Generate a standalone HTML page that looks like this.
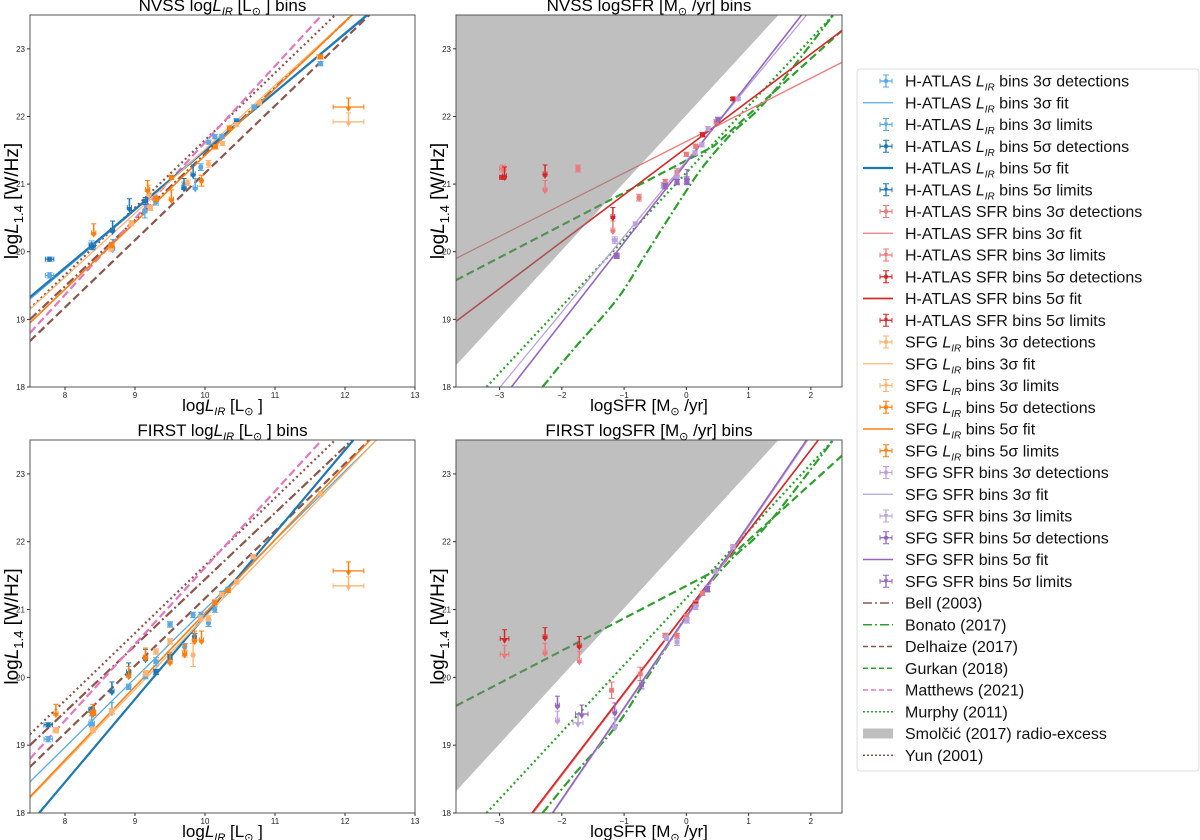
<!DOCTYPE html>
<html><head><meta charset="utf-8"><style>
html,body{margin:0;padding:0;background:#fff;}
svg{display:block;font-family:"Liberation Sans","DejaVu Sans",sans-serif;}
</style></head><body>
<svg id="fig" width="1200" height="840" viewBox="0 0 1200 840" xmlns="http://www.w3.org/2000/svg"></svg>
<script>
// ---------- data ----------
const lirTicks=[8,9,10,11,12,13];
const sfrTicks=[-3,-2,-1,0,1,2];
const yTicks=[18,19,20,21,22,23];

// theory lines in LIR panels [x0,y0,x1,y1]
const bellLir=[7.5,19.0,12.1,23.5];
const delhaizeLir=[7.5,18.68,12.35,23.5];
const matthewsLir=[7.5,18.8,11.67,23.5];
const yunLir=[7.5,19.16,11.86,23.5];
// fits NVSS LIR
const nvssH3fit=[7.5,19.30,12.3,23.5];
const nvssH5fit=[7.5,19.33,12.32,23.5];
const nvssS3fit=[7.5,19.15,12.1,23.5];
const nvssS5fit=[7.5,18.95,12.1,23.5];
// fits FIRST LIR
const firstH3fit=[7.5,18.46,12.45,23.5];
const firstH5fit=[7.63,18.0,12.12,23.5];
const firstS3fit=[7.5,18.22,12.45,23.5];
const firstS5fit=[7.5,18.24,12.36,23.5];

// SFR panel lines
const smolcic=[-3.7,18.32,1.48,23.5];
const murphy=[-3.21,18.0,2.36,23.5];
const gurkanX=[-3.7,0.44,2.5];
const gurkanY=[19.58,21.56,23.27];
const bonatoX=[-2.31,-1.82,-1.12,-0.64,-0.1,0.27,0.73,1.29,2.36];
const bonatoY=[18.0,18.55,19.29,19.98,20.76,21.26,21.75,22.24,23.5];
const nvssR3fit=[-3.7,19.9,2.5,22.8];
const nvssR5fit=[-3.7,18.97,2.5,23.27];
const nvssP3fit=[-2.99,18.0,1.93,23.5];
const nvssP5fit=[-2.81,18.0,1.85,23.5];
const firstR3fit=[-2.46,18.0,2.12,23.5];
const firstR5fit=[-2.48,18.0,2.12,23.5];
const firstP3fit=[-2.14,18.0,1.95,23.5];
const firstP5fit=[-2.15,18.0,1.93,23.5];

// points [x,y,yerr,xerr]
const nvssH3det=[[7.78,19.65,0.04,0.06],[8.38,20.1,0.06,0.04],[9.14,20.6,0.1,0.03],[9.3,20.74,0.05,0.03],[9.7,20.98,0.05,0.02],[9.94,21.25,0.05,0.02],[10.05,21.62,0.03,0.02],[10.14,21.7,0.03,0.02],[10.24,21.7,0.03,0.02],[10.45,21.94,0.03,0.02],[10.7,22.14,0.03,0.02],[11.65,22.78,0.03,0.03]];
const nvssH3lim=[[8.68,20.05],[9.86,20.95]];
const nvssH5det=[[7.78,19.89,0.03,0.06],[8.39,20.08,0.05,0.04],[9.15,20.75,0.05,0.03],[10.45,21.92,0.03,0.02]];
const nvssH5lim=[[8.68,20.32],[8.92,20.65],[9.7,20.95],[9.83,21.15]];
const nvssS3det=[[8.66,20.05,0.05,0.03],[8.95,20.42,0.04,0.03],[9.22,20.65,0.04,0.03],[9.75,21.02,0.04,0.02],[10.05,21.3,0.05,0.02],[10.25,21.6,0.03,0.02],[10.45,21.88,0.03,0.02],[10.78,22.2,0.03,0.02],[11.63,22.88,0.03,0.03]];
const nvssS3lim=[[9.2,20.85],[12.05,21.92,0,0.22]];
const nvssS5det=[[8.67,20.1,0.04,0.03],[9.3,20.78,0.04,0.03],[9.52,21.1,0.03,0.02],[9.95,21.05,0.08,0.02],[10.15,21.55,0.03,0.02],[10.35,21.83,0.03,0.02],[11.65,22.88,0.03,0.03]];
const nvssS5lim=[[8.41,20.28],[9.18,20.92],[9.52,20.78],[12.05,22.14,0,0.22]];

const firstH3det=[[7.76,19.09,0.04,0.06],[8.38,19.32,0.05,0.04],[8.91,19.86,0.04,0.03],[9.15,20.01,0.03,0.03],[9.3,20.23,0.06,0.03],[9.5,20.78,0.04,0.03],[9.71,20.45,0.05,0.02],[9.83,20.92,0.04,0.02],[9.94,20.92,0.04,0.02],[10.05,20.8,0.05,0.02],[10.14,21.0,0.04,0.02],[10.24,21.24,0.03,0.02],[10.33,21.3,0.03,0.02],[10.45,21.41,0.03,0.02],[10.69,21.78,0.03,0.02],[11.65,22.71,0.03,0.03]];
const firstH3lim=[[8.38,19.3],[8.67,19.5]];
const firstH5det=[[7.76,19.3,0.03,0.06],[8.38,19.52,0.04,0.04],[9.3,20.08,0.04,0.03],[9.5,20.3,0.04,0.03],[9.85,20.6,0.05,0.02]];
const firstH5lim=[[8.67,19.8],[8.91,20.08],[9.15,20.28]];
const firstS3det=[[7.87,19.22,0.04,0.04],[8.4,19.23,0.04,0.04],[8.67,19.5,0.04,0.03],[9.15,20.06,0.04,0.03],[9.3,20.38,0.04,0.03],[9.5,20.53,0.04,0.03],[9.71,20.35,0.05,0.02],[9.83,20.33,0.17,0.02],[9.94,20.87,0.04,0.02],[10.05,20.87,0.04,0.02],[10.14,21.12,0.03,0.02],[10.24,21.22,0.03,0.02],[10.45,21.41,0.03,0.02],[10.69,21.78,0.03,0.02],[11.65,22.71,0.03,0.03]];
const firstS3lim=[[12.05,21.35,0,0.22]];
const firstS5det=[[8.4,19.48,0.04,0.04],[10.14,21.1,0.03,0.02],[10.33,21.28,0.03,0.02]];
const firstS5lim=[[7.87,19.47],[8.4,19.47],[8.91,20.03],[9.15,20.3],[9.5,20.23],[9.71,20.35],[9.85,20.55],[9.95,20.55],[12.05,21.57,0,0.22]];

const nvssR3det=[[-2.95,21.23,0.05,0.05],[-1.74,21.23,0.05,0.03],[-0.76,20.8,0.05,0.03],[-0.34,21.03,0.04,0.03],[-0.15,21.18,0.05,0.03],[0,21.44,0.03,0.03],[0.15,21.56,0.03,0.03],[0.26,21.73,0.03,0.03],[0.48,21.92,0.03,0.03],[0.75,22.26,0.02,0.03]];
const nvssR3lim=[[-2.27,20.92],[-1.18,20.32]];
const nvssR5det=[[-2.95,21.1,0.03,0.05],[0.26,21.73,0.03,0.03],[0.75,22.26,0.02,0.03]];
const nvssR5lim=[[-2.92,21.12],[-2.27,21.15],[-1.18,20.52]];
const nvssP3det=[[-1.15,20.17,0.05,0.04],[-0.82,20.41,0.03,0.03],[-0.37,20.98,0.04,0.03],[-0.15,21.06,0.05,0.03],[0,21.06,0.05,0.03],[0.14,21.46,0.03,0.03],[0.25,21.58,0.03,0.03],[0.35,21.82,0.03,0.03],[0.51,21.96,0.03,0.03],[0.83,22.26,0.02,0.03]];
const nvssP3lim=[[-0.15,21.1]];
const nvssP5det=[[-1.12,19.94,0.04,0.04],[-0.34,20.97,0.04,0.03],[-0.15,21.03,0.04,0.03],[0.01,21.03,0.04,0.03],[0.51,21.95,0.03,0.03]];
const nvssP5lim=[[0.01,21.08]];

const firstR3det=[[-1.2,19.81,0.12,0.03],[-0.74,20.05,0.1,0.03],[-0.34,20.62,0.03,0.03],[-0.15,20.61,0.04,0.03],[0,20.9,0.03,0.03],[0.15,21.1,0.03,0.03],[0.26,21.24,0.03,0.03],[0.47,21.56,0.03,0.03],[0.75,21.93,0.02,0.03]];
const firstR3lim=[[-2.92,20.34,0,0.07],[-2.27,20.37],[-1.72,20.25]];
const firstR5det=[[0.15,21.08,0.03,0.03]];
const firstR5lim=[[-2.92,20.57,0,0.07],[-2.27,20.6],[-1.72,20.47]];
const firstP3det=[[-0.32,20.58,0.04,0.03],[-0.15,20.52,0.05,0.03],[0.01,20.84,0.04,0.03],[0.15,21.04,0.04,0.03],[0.34,21.31,0.04,0.03],[0.47,21.56,0.03,0.03],[0.75,21.92,0.03,0.03]];
const firstP3lim=[[-2.07,19.37],[-1.74,19.33,0,0.08],[-1.15,19.27]];
const firstP5det=[[-0.72,19.89,0.06,0.03],[0.34,21.3,0.04,0.03]];
const firstP5lim=[[-2.07,19.59],[-1.68,19.46,0,0.1],[-1.15,19.49]];

// ---------- drawing ----------
const NS='http://www.w3.org/2000/svg';
const svg=document.getElementById('fig');
function mk(tag,attrs,parent){const e=document.createElementNS(NS,tag);for(const k in attrs)e.setAttribute(k,attrs[k]);(parent||svg).appendChild(e);return e;}

const C={h3:'#5aa9e2',h5:'#1f77b4',r3:'#ec7a7a',r5:'#d62728',s3:'#ffb473',s5:'#ff7f0e',p3:'#bba3db',p5:'#9467bd',brown:'#8c564b',green:'#2ca02c',pink:'#e377c2'};

function makePanel(name,x0,y0,x1,y1,xmin,xmax,ymin,ymax){
  const g=mk('g',{});
  
  
  const cid='clip-'+name;
  const cp=mk('clipPath',{id:cid},g);mk('rect',{x:x0,y:y0,width:x1-x0,height:y1-y0},cp);
  const inner=mk('g',{'clip-path':'url(#'+cid+')'},g);
  return {g,inner,x0,y0,x1,y1,
    sx:v=>x0+(v-xmin)/(xmax-xmin)*(x1-x0),
    sy:v=>y1-(v-ymin)/(ymax-ymin)*(y1-y0)};
}
function line(P,seg,color,w,dash,name){
  const l=mk('line',{x1:P.sx(seg[0]),y1:P.sy(seg[1]),x2:P.sx(seg[2]),y2:P.sy(seg[3]),stroke:color,'stroke-width':w,'stroke-dasharray':dash||'none'},P.inner);
  
  
}
function poly(P,xs,ys,color,w,dash,name,smooth){
  const p=xs.map((x,i)=>[P.sx(x),P.sy(ys[i])]);
  let d='M'+p[0][0]+','+p[0][1];
  if(smooth){
    for(let i=0;i<p.length-1;i++){
      const p0=p[Math.max(0,i-1)],p1=p[i],p2=p[i+1],p3=p[Math.min(p.length-1,i+2)];
      const c1=[p1[0]+(p2[0]-p0[0])/6,p1[1]+(p2[1]-p0[1])/6];
      const c2=[p2[0]-(p3[0]-p1[0])/6,p2[1]-(p3[1]-p1[1])/6];
      d+=` C${c1[0]},${c1[1]} ${c2[0]},${c2[1]} ${p2[0]},${p2[1]}`;
    }
  }else{for(let i=1;i<p.length;i++)d+=' L'+p[i][0]+','+p[i][1];}
  const l=mk('path',{d:d,fill:'none',stroke:color,'stroke-width':w,'stroke-dasharray':dash||'none'},P.inner);
  
  
}
function shade(P,seg,name){
  const xa=seg[0],ya=seg[1],xb=seg[2],yb=seg[3];
  const pts=[[P.sx(xa),P.sy(ya)],[P.sx(xb),P.sy(yb)],[P.sx(xa),P.sy(yb)]].map(p=>p.join(',')).join(' ');
  const p=mk('polygon',{points:pts,fill:'#7f7f7f','fill-opacity':0.5},P.inner);
  
  
}
function pts(P,arr,color,isLim,name){
  const g=mk('g',{},P.inner);
  
  
  arr.forEach(d=>{
    const cx=P.sx(d[0]),cy=P.sy(d[1]);
    const xe=d[3]!==undefined?d[3]:0.03;
    const ex=Math.abs(P.sx(d[0]+xe)-cx);
    mk('line',{x1:cx-ex,y1:cy,x2:cx+ex,y2:cy,stroke:color,'stroke-width':1.3},g);
    mk('line',{x1:cx-ex,y1:cy-2.5,x2:cx-ex,y2:cy+2.5,stroke:color,'stroke-width':1},g);
    mk('line',{x1:cx+ex,y1:cy-2.5,x2:cx+ex,y2:cy+2.5,stroke:color,'stroke-width':1},g);
    if(isLim){
      mk('line',{x1:cx,y1:cy-9,x2:cx,y2:cy+3,stroke:color,'stroke-width':1.5},g);
      mk('polygon',{points:`${cx-3},${cy} ${cx+3},${cy} ${cx},${cy+5}`,fill:color},g);
      mk('line',{x1:cx-2.5,y1:cy-9,x2:cx+2.5,y2:cy-9,stroke:color,'stroke-width':1},g);
    }else{
      const ey=Math.abs(P.sy(d[1]+(d[2]||0.03))-cy);
      mk('line',{x1:cx,y1:cy-ey,x2:cx,y2:cy+ey,stroke:color,'stroke-width':1.3},g);
      mk('line',{x1:cx-3,y1:cy-ey,x2:cx+3,y2:cy-ey,stroke:color,'stroke-width':1},g);
      mk('line',{x1:cx-3,y1:cy+ey,x2:cx+3,y2:cy+ey,stroke:color,'stroke-width':1},g);
      mk('circle',{cx:cx,cy:cy,r:2.6,fill:color},g);
    }
  });
}
function axes(P,xt,title,xlab){
  const {x0,y0,x1,y1}=P;
  const f=mk('rect',{x:x0,y:y0,width:x1-x0,height:y1-y0,fill:'none',stroke:'#555','stroke-width':1},P.g);
  
  xt.forEach(v=>{const x=P.sx(v);mk('line',{x1:x,y1:y1,x2:x,y2:y1+3,stroke:'#333'},P.g);
    const t=mk('text',{x:x,y:y1+11,'font-size':8,'text-anchor':'middle',fill:'#222'},P.g);t.textContent=(v<0?'\u2212'+(-v):v);
    });
  yTicks.forEach(v=>{const y=P.sy(v);mk('line',{x1:x0-3,y1:y,x2:x0,y2:y,stroke:'#333'},P.g);
    const t=mk('text',{x:x0-5,y:y+3,'font-size':8,'text-anchor':'end',fill:'#222'},P.g);t.textContent=v;
    });
  const tt=mk('text',{x:(x0+x1)/2,y:y0-4,'font-size':17,'text-anchor':'middle'},P.g);tt.innerHTML=title;
  
  const xl=mk('text',{x:(x0+x1)/2,y:y1+24,'font-size':17,'text-anchor':'middle'},P.g);xl.innerHTML=xlab;
  
  const cy=(y0+y1)/2;
  const yl=mk('text',{x:x0-12,y:cy,'font-size':19,'text-anchor':'middle',transform:`rotate(-90 ${x0-12} ${cy})`},P.g);
  yl.innerHTML='log<tspan font-style="italic">L</tspan><tspan font-size="13" dy="5">1.4</tspan><tspan dy="-5"> [W/Hz]</tspan>';
  
}
const LIRLAB='log<tspan font-style="italic">L</tspan><tspan font-size="11" dy="4" font-style="italic">IR</tspan><tspan dy="-4"> [L</tspan><tspan font-size="11" dy="4">\u2299</tspan><tspan dy="-4"> ]</tspan>';
const SFRLAB='logSFR [M<tspan font-size="11" dy="4">\u2299</tspan><tspan dy="-4"> /yr]</tspan>';

function lirPanel(P,h3f,h5f,s3f,s5f,D){
  line(P,delhaizeLir,C.brown,2.2,'8,4','delhaize-line');
  line(P,bellLir,C.brown,2.2,'9,3,2,3','bell-line');
  line(P,yunLir,C.brown,2.2,'2,3','yun-line');
  line(P,matthewsLir,C.pink,2.2,'8,4','matthews-line');
  line(P,h3f,C.h3,1.3,null,'hatlas-lir-3sigma-fit');
  line(P,h5f,C.h5,2.2,null,'hatlas-lir-5sigma-fit');
  line(P,s3f,C.s3,1.3,null,'sfg-lir-3sigma-fit');
  line(P,s5f,C.s5,1.6,null,'sfg-lir-5sigma-fit');
  pts(P,D[0],C.h3,false,'hatlas-lir-3sigma-detections');
  pts(P,D[1],C.h3,true,'hatlas-lir-3sigma-limits');
  pts(P,D[2],C.h5,false,'hatlas-lir-5sigma-detections');
  pts(P,D[3],C.h5,true,'hatlas-lir-5sigma-limits');
  pts(P,D[4],C.s3,false,'sfg-lir-3sigma-detections');
  pts(P,D[5],C.s3,true,'sfg-lir-3sigma-limits');
  pts(P,D[6],C.s5,false,'sfg-lir-5sigma-detections');
  pts(P,D[7],C.s5,true,'sfg-lir-5sigma-limits');
}
function sfrPanel(P,r3f,r5f,p3f,p5f,D){
  line(P,murphy,C.green,2.2,'2,3','murphy-line');
  poly(P,bonatoX,bonatoY,C.green,2.2,'9,3,2,3','bonato-line',true);
  poly(P,gurkanX,gurkanY,C.green,2.2,'8,4','gurkan-line',false);
  line(P,r3f,C.r3,1.3,null,'hatlas-sfr-3sigma-fit');
  line(P,r5f,C.r5,1.6,null,'hatlas-sfr-5sigma-fit');
  line(P,p3f,C.p3,1.3,null,'sfg-sfr-3sigma-fit');
  line(P,p5f,C.p5,1.6,null,'sfg-sfr-5sigma-fit');
  shade(P,smolcic,'smolcic-radio-excess-region');
  pts(P,D[0],C.r3,false,'hatlas-sfr-3sigma-detections');
  pts(P,D[1],C.r3,true,'hatlas-sfr-3sigma-limits');
  pts(P,D[2],C.r5,false,'hatlas-sfr-5sigma-detections');
  pts(P,D[3],C.r5,true,'hatlas-sfr-5sigma-limits');
  pts(P,D[4],C.p3,false,'sfg-sfr-3sigma-detections');
  pts(P,D[5],C.p3,true,'sfg-sfr-3sigma-limits');
  pts(P,D[6],C.p5,false,'sfg-sfr-5sigma-detections');
  pts(P,D[7],C.p5,true,'sfg-sfr-5sigma-limits');
}

const P1=makePanel('nvss-lir-panel',30,15,415,387,7.5,13,18,23.5);
lirPanel(P1,nvssH3fit,nvssH5fit,nvssS3fit,nvssS5fit,[nvssH3det,nvssH3lim,nvssH5det,nvssH5lim,nvssS3det,nvssS3lim,nvssS5det,nvssS5lim]);
axes(P1,lirTicks,'NVSS '+LIRLAB+' bins',LIRLAB);
const P2=makePanel('nvss-sfr-panel',456,15,842,387,-3.7,2.5,18,23.5);
sfrPanel(P2,nvssR3fit,nvssR5fit,nvssP3fit,nvssP5fit,[nvssR3det,nvssR3lim,nvssR5det,nvssR5lim,nvssP3det,nvssP3lim,nvssP5det,nvssP5lim]);
axes(P2,sfrTicks,'NVSS '+SFRLAB+' bins',SFRLAB);
const P3=makePanel('first-lir-panel',30,440,415,813,7.5,13,18,23.5);
lirPanel(P3,firstH3fit,firstH5fit,firstS3fit,firstS5fit,[firstH3det,firstH3lim,firstH5det,firstH5lim,firstS3det,firstS3lim,firstS5det,firstS5lim]);
axes(P3,lirTicks,'FIRST '+LIRLAB+' bins',LIRLAB);
const P4=makePanel('first-sfr-panel',456,440,842,813,-3.7,2.5,18,23.5);
sfrPanel(P4,firstR3fit,firstR5fit,firstP3fit,firstP5fit,[firstR3det,firstR3lim,firstR5det,firstR5lim,firstP3det,firstP3lim,firstP5det,firstP5lim]);
axes(P4,sfrTicks,'FIRST '+SFRLAB+' bins',SFRLAB);

// ---------- legend ----------
const LIRt='<tspan font-style="italic">L</tspan><tspan font-size="10" dy="4" font-style="italic">IR</tspan><tspan dy="-4">';
const legendItems=[
 ['e',C.h3,'H-ATLAS '+LIRt+' bins 3\u03c3 detections</tspan>'],
 ['l',C.h3,'H-ATLAS '+LIRt+' bins 3\u03c3 fit</tspan>',1.3],
 ['a',C.h3,'H-ATLAS '+LIRt+' bins 3\u03c3 limits</tspan>'],
 ['e',C.h5,'H-ATLAS '+LIRt+' bins 5\u03c3 detections</tspan>'],
 ['l',C.h5,'H-ATLAS '+LIRt+' bins 5\u03c3 fit</tspan>',2.2],
 ['a',C.h5,'H-ATLAS '+LIRt+' bins 5\u03c3 limits</tspan>'],
 ['e',C.r3,'H-ATLAS SFR bins 3\u03c3 detections'],
 ['l',C.r3,'H-ATLAS SFR bins 3\u03c3 fit',1.3],
 ['a',C.r3,'H-ATLAS SFR bins 3\u03c3 limits'],
 ['e',C.r5,'H-ATLAS SFR bins 5\u03c3 detections'],
 ['l',C.r5,'H-ATLAS SFR bins 5\u03c3 fit',1.8],
 ['a',C.r5,'H-ATLAS SFR bins 5\u03c3 limits'],
 ['e',C.s3,'SFG '+LIRt+' bins 3\u03c3 detections</tspan>'],
 ['l',C.s3,'SFG '+LIRt+' bins 3\u03c3 fit</tspan>',1.3],
 ['a',C.s3,'SFG '+LIRt+' bins 3\u03c3 limits</tspan>'],
 ['e',C.s5,'SFG '+LIRt+' bins 5\u03c3 detections</tspan>'],
 ['l',C.s5,'SFG '+LIRt+' bins 5\u03c3 fit</tspan>',1.6],
 ['a',C.s5,'SFG '+LIRt+' bins 5\u03c3 limits</tspan>'],
 ['e',C.p3,'SFG SFR bins 3\u03c3 detections'],
 ['l',C.p3,'SFG SFR bins 3\u03c3 fit',1.3],
 ['a',C.p3,'SFG SFR bins 3\u03c3 limits'],
 ['e',C.p5,'SFG SFR bins 5\u03c3 detections'],
 ['l',C.p5,'SFG SFR bins 5\u03c3 fit',1.6],
 ['a',C.p5,'SFG SFR bins 5\u03c3 limits'],
 ['d',C.brown,'Bell (2003)','9,3,2,3'],
 ['d',C.green,'Bonato (2017)','9,3,2,3'],
 ['d',C.brown,'Delhaize (2017)','5,3'],
 ['d',C.green,'Gurkan (2018)','5,3'],
 ['d',C.pink,'Matthews (2021)','5,3'],
 ['d',C.green,'Murphy (2011)','2,2'],
 ['p','#bfbfbf','Smol\u010di\u0107 (2017) radio-excess'],
 ['d',C.brown,'Yun (2001)','2,2']
];
const lg=mk('g',{});


mk('rect',{x:857,y:69,width:342,height:702,rx:3,fill:'#fff',stroke:'#ddd'},lg);
legendItems.forEach((it,i)=>{
  const y=81+i*21.75;const c=it[1];
  const g=mk('g',{},lg);
  
  
  if(it[0]==='e'||it[0]==='a'){
    mk('line',{x1:880,y1:y,x2:892,y2:y,stroke:c,'stroke-width':1.3},g);
    mk('line',{x1:880,y1:y-2.5,x2:880,y2:y+2.5,stroke:c},g);
    mk('line',{x1:892,y1:y-2.5,x2:892,y2:y+2.5,stroke:c},g);
    mk('line',{x1:886,y1:y-6,x2:886,y2:y+6,stroke:c,'stroke-width':1.3},g);
    mk('line',{x1:883,y1:y-6,x2:889,y2:y-6,stroke:c},g);
    mk('line',{x1:883,y1:y+6,x2:889,y2:y+6,stroke:c},g);
    if(it[0]==='e')mk('circle',{cx:886,cy:y,r:2.2,fill:c},g);
    else mk('polygon',{points:`${884},${y-2} ${888},${y-2} ${886},${y+3}`,fill:c},g);
  }else if(it[0]==='l'){
    mk('line',{x1:863,y1:y,x2:893,y2:y,stroke:c,'stroke-width':it[3]},g);
  }else if(it[0]==='d'){
    mk('line',{x1:863,y1:y,x2:893,y2:y,stroke:c,'stroke-width':1.6,'stroke-dasharray':it[3]},g);
  }else{
    mk('rect',{x:863,y:y-5,width:30,height:10,fill:c},g);
  }
  const t=mk('text',{x:905,y:y+5.5,'font-size':16,fill:'#111'},g);
  t.innerHTML=it[2];
});
</script>
</body></html>
